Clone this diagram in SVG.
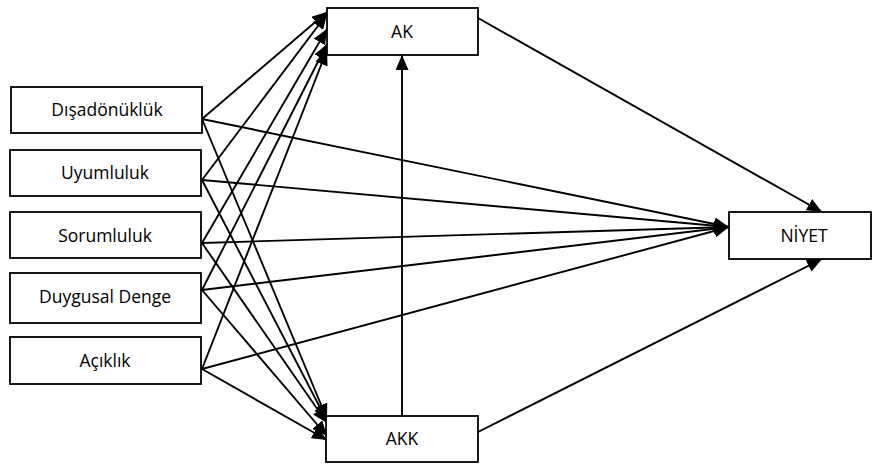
<svg xmlns="http://www.w3.org/2000/svg" width="873" height="468" viewBox="0 0 873 468">
  <style>
    .box { fill: #ffffff; stroke: #000000; stroke-width: 1.8; }
    .lbl { font-family: "Open Sans", "Liberation Sans", sans-serif; font-size: 17.5px; fill: #000000; text-anchor: middle; }
    .edge { stroke: #000000; stroke-width: 1.9; fill: none; marker-end: url(#arrow); }
  </style>
  <defs>
    <marker id="arrow" markerUnits="userSpaceOnUse" markerWidth="16" markerHeight="13" refX="15" refY="6.5" orient="auto">
      <path d="M0,0 L15,6.5 L0,13 z" fill="#000000"/>
    </marker>
  </defs>

  <!-- connectors -->
  <g id="connectors">
    <!-- personality traits to AK -->
    <line class="edge" x1="202" y1="119" x2="327" y2="12"/>
    <line class="edge" x1="202" y1="180" x2="327" y2="14"/>
    <line class="edge" x1="202" y1="243" x2="327" y2="29"/>
    <line class="edge" x1="202" y1="290" x2="327" y2="44"/>
    <line class="edge" x1="202" y1="369" x2="327" y2="50"/>
    <!-- personality traits to AKK -->
    <line class="edge" x1="202" y1="119" x2="327" y2="419"/>
    <line class="edge" x1="202" y1="180" x2="327" y2="421"/>
    <line class="edge" x1="202" y1="243" x2="327" y2="423"/>
    <line class="edge" x1="202" y1="290" x2="327" y2="436"/>
    <line class="edge" x1="202" y1="369" x2="327" y2="440"/>
    <!-- personality traits to NİYET -->
    <line class="edge" x1="202" y1="119" x2="729" y2="227"/>
    <line class="edge" x1="202" y1="180" x2="729" y2="227"/>
    <line class="edge" x1="202" y1="243" x2="729" y2="227"/>
    <line class="edge" x1="202" y1="290" x2="729" y2="227"/>
    <line class="edge" x1="202" y1="369" x2="729" y2="227"/>
    <!-- AKK to AK -->
    <line class="edge" x1="402" y1="416" x2="402" y2="55"/>
    <!-- AK and AKK to NİYET -->
    <line class="edge" x1="478" y1="18" x2="822" y2="212"/>
    <line class="edge" x1="478" y1="432" x2="822" y2="259"/>
  </g>

  <g id="disadonukluk">
    <rect class="box" x="11" y="87" width="191" height="46"/>
    <text class="lbl" x="107" y="116">Dışadönüklük</text>
  </g>
  <g id="uyumluluk">
    <rect class="box" x="10" y="150" width="191" height="46"/>
    <text class="lbl" x="105" y="179">Uyumluluk</text>
  </g>
  <g id="sorumluluk">
    <rect class="box" x="10" y="212" width="191" height="46"/>
    <text class="lbl" x="105" y="242">Sorumluluk</text>
  </g>
  <g id="duygusal-denge">
    <rect class="box" x="10" y="273" width="191" height="50"/>
    <text class="lbl" x="105" y="303">Duygusal Denge</text>
  </g>
  <g id="aciklik">
    <rect class="box" x="10" y="337" width="191" height="47"/>
    <text class="lbl" x="105" y="367">Açıklık</text>
  </g>
  <g id="ak">
    <rect class="box" x="327" y="8" width="151" height="47"/>
    <text class="lbl" x="402" y="38">AK</text>
  </g>
  <g id="akk">
    <rect class="box" x="326" y="416" width="152" height="46"/>
    <text class="lbl" x="402" y="445">AKK</text>
  </g>
  <g id="niyet">
    <rect class="box" x="729" y="212" width="142" height="47"/>
    <text class="lbl" x="804" y="242">NİYET</text>
  </g>
</svg>
